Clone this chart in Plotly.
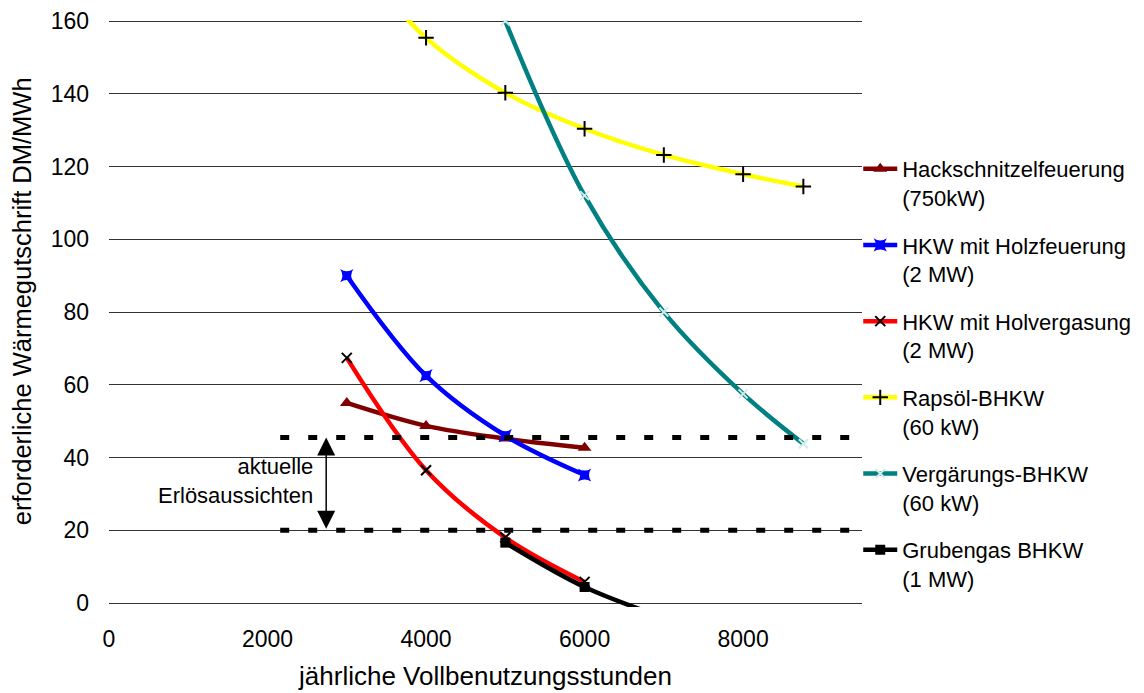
import plotly.graph_objects as go

# ---- data ----
hours_a = [3000, 4000, 5000, 6000]
hack = [55.0, 48.7, 45.2, 42.7]
holzfeuer = [90.0, 62.5, 46.0, 35.2]
holzverg = [67.4, 36.5, 18.0, 5.8]

hours_raps = [3000, 4000, 5000, 6000, 7000, 8000, 8760]
raps = [180.5, 155.4, 140.3, 130.4, 123.2, 117.9, 114.5]

hours_verg = [5000, 6000, 7000, 8000, 8760]
verg = [160.0, 112.0, 80.0, 57.5, 43.8]

hours_grube = [5000, 6000, 7000]
grube = [16.6, 4.4, -4.0]

names = [
    "Hackschnitzelfeuerung<br>(750kW)",
    "HKW mit Holzfeuerung<br>(2 MW)",
    "HKW mit Holvergasung<br>(2 MW)",
    "Rapsöl-BHKW<br>(60 kW)",
    "Vergärungs-BHKW<br>(60 kW)",
    "Grubengas BHKW<br>(1 MW)",
]

# reference band (current revenue prospects)
band_x = [2160, 9350]
band_upper = 45.5
band_lower = 20.0
arrow_x = 2740
band_label = "aktuelle<br>Erlösaussichten"

x_ticks = [0, 2000, 4000, 6000, 8000]
y_ticks = [0, 20, 40, 60, 80, 100, 120, 140, 160]

FONT = "Arial, Liberation Sans, sans-serif"

fig = go.Figure()

series = [
    (hours_a, hack, "#800000", dict(symbol="triangle-up", size=12, color="#800000")),
    (hours_a, holzfeuer, "#0000FF", dict(symbol="star-square", size=12, color="#0000FF")),
    (hours_a, holzverg, "#FF0000", dict(symbol="x-thin-open", size=10, color="#000000", line=dict(width=2, color="#000000"))),
    (hours_raps, raps, "#FFFF00", dict(symbol="cross-thin-open", size=11, color="#000000", line=dict(width=2, color="#000000"))),
    (hours_verg, verg, "#008080", dict(symbol="x-thin-open", size=9, color="#d0ecec", line=dict(width=2, color="#d0ecec"))),
    (hours_grube, grube, "#000000", dict(symbol="square", size=10, color="#000000")),
]

for i, (xs, ys, col, mk) in enumerate(series):
    fig.add_trace(go.Scatter(
        x=xs, y=ys, name=names[i], mode="lines+markers",
        line=dict(color=col, width=4.5, shape="spline", smoothing=1.0),
        marker=mk, legendgroup=f"g{i}", cliponaxis=True,
    ))

# dashed reference lines
for yv in (band_upper, band_lower):
    fig.add_trace(go.Scatter(
        x=band_x, y=[yv, yv], mode="lines", showlegend=False, hoverinfo="skip",
        line=dict(color="black", width=5, dash="9px,19px"),
    ))

# double arrow
fig.add_annotation(x=arrow_x, y=band_upper, ax=arrow_x, ay=band_lower,
                   xref="x", yref="y", axref="x", ayref="y",
                   showarrow=True, arrowhead=2, startarrowhead=2, arrowside="end+start",
                   arrowsize=2.4, startarrowsize=2.4, arrowwidth=1.5, arrowcolor="black", text="",
                   standoff=0, startstandoff=0)
fig.add_annotation(x=2600, y=33.5, xref="x", yref="y", text=band_label, showarrow=False,
                   xanchor="right", yanchor="middle", align="right",
                   font=dict(family=FONT, size=22, color="black"))

# y axis title (placed slightly above plot centre as in the original)
fig.add_annotation(x=0, xref="paper", xshift=-87, y=0.521, yref="paper",
                   text="erforderliche Wärmegutschrift DM/MWh", textangle=-90,
                   showarrow=False, xanchor="center", yanchor="middle",
                   font=dict(family=FONT, size=25.5, color="black"))

# the page adds an 8px body margin, so the figure is sized/offset to compensate
fig.update_layout(
    width=1136, height=685,
    margin=dict(l=101, r=282, t=12, b=86, autoexpand=False),
    paper_bgcolor="white", plot_bgcolor="white",
    font=dict(family=FONT, size=22, color="black"),
    showlegend=True,
    legend=dict(x=0.995, y=0.782, xanchor="left", yanchor="top",
                font=dict(family=FONT, size=22, color="black"),
                valign="top", tracegroupgap=16, itemwidth=34,
                bgcolor="rgba(0,0,0,0)"),
    xaxis=dict(range=[0, 9500], tickvals=x_ticks, showgrid=False, zeroline=False,
               showline=False, ticks="", ticklabelstandoff=16, automargin=False,
               tickfont=dict(family=FONT, size=23),
               title=dict(text="jährliche Vollbenutzungsstunden", standoff=15,
                          font=dict(family=FONT, size=26))),
    yaxis=dict(range=[-1.1, 160.3], tickvals=y_ticks, showgrid=True, gridcolor="#333333",
               gridwidth=1, zeroline=False, showline=False, ticks="", ticklabelstandoff=19,
               automargin=False, tickfont=dict(family=FONT, size=23)),
)

fig.write_html("out.html")
